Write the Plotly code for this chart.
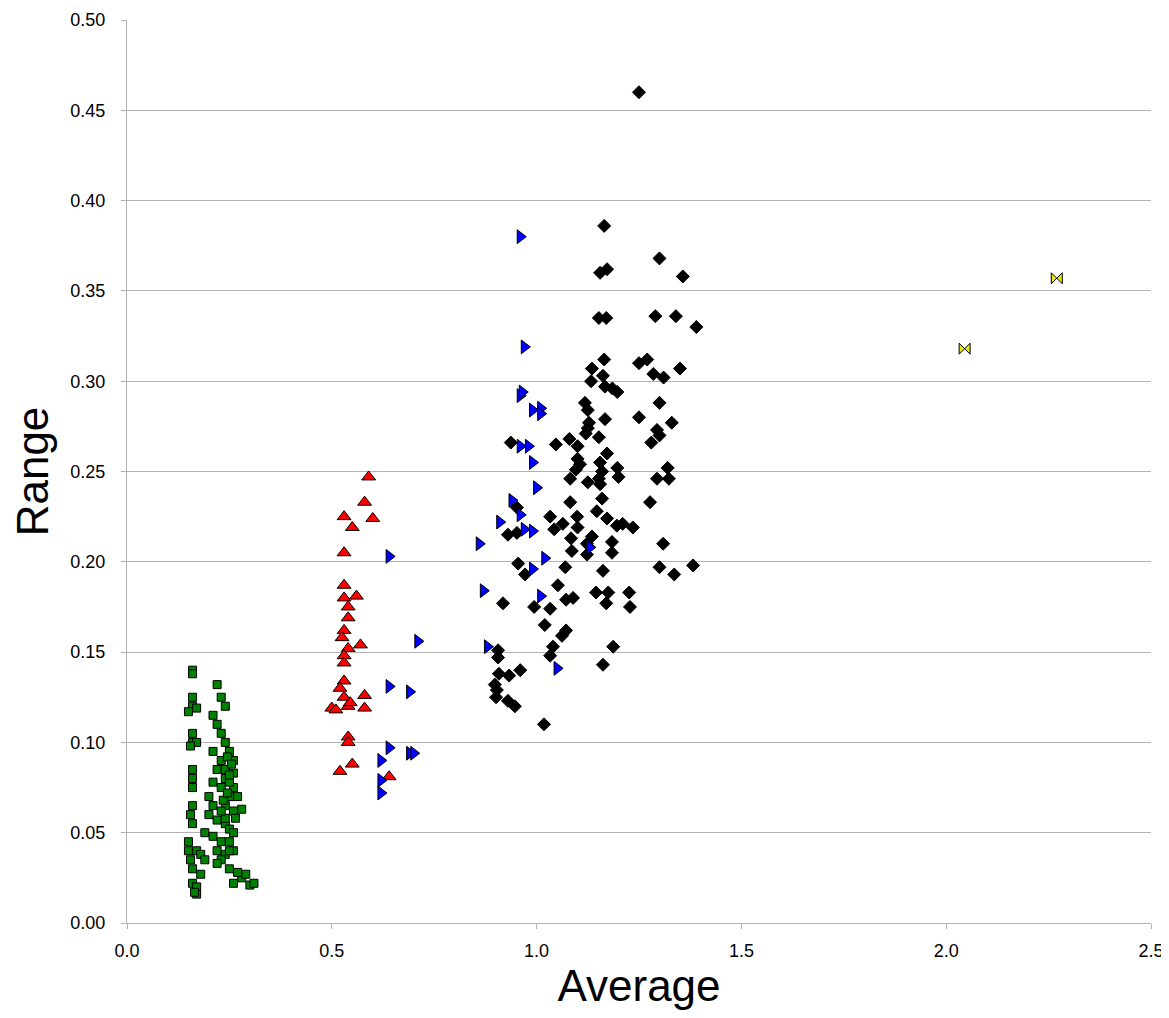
import plotly.graph_objects as go

green_x = [0.16, 0.16, 0.16, 0.16, 0.15, 0.17, 0.16, 0.16, 0.17, 0.155, 0.16, 0.16, 0.16, 0.16, 0.155, 0.16,
           0.15, 0.15, 0.155, 0.16, 0.16, 0.17, 0.17, 0.165, 0.18, 0.17, 0.18, 0.19,
           0.22, 0.23, 0.24, 0.21, 0.22, 0.23, 0.21, 0.24, 0.25, 0.26, 0.22, 0.24, 0.26, 0.21, 0.23, 0.25,
           0.27, 0.24, 0.26, 0.28, 0.20, 0.22, 0.24, 0.25, 0.19, 0.21, 0.23, 0.25, 0.22, 0.24, 0.26, 0.23,
           0.25, 0.22, 0.26, 0.28, 0.29, 0.30, 0.31, 0.27, 0.25, 0.20, 0.21, 0.23, 0.24, 0.26,
           0.245, 0.255, 0.235, 0.25, 0.24, 0.26, 0.23, 0.245, 0.25, 0.265]
green_y = [0.140, 0.138, 0.125, 0.120, 0.117, 0.119, 0.105, 0.100, 0.100, 0.098, 0.085, 0.080, 0.075, 0.065, 0.060, 0.055,
           0.045, 0.040, 0.035, 0.030, 0.022, 0.020, 0.016, 0.017, 0.027, 0.040, 0.038, 0.035,
           0.132, 0.125, 0.120, 0.115, 0.110, 0.105, 0.095, 0.100, 0.095, 0.090, 0.085, 0.080, 0.083, 0.078, 0.075, 0.070,
           0.070, 0.065, 0.062, 0.063, 0.060, 0.057, 0.055, 0.052, 0.050, 0.048, 0.045, 0.045, 0.040, 0.038, 0.040, 0.035,
           0.030, 0.033, 0.022, 0.025, 0.027, 0.021, 0.022, 0.028, 0.040, 0.070, 0.065, 0.090, 0.085, 0.075,
           0.092, 0.088, 0.068, 0.078, 0.058, 0.050, 0.062, 0.072, 0.082, 0.058]

red_x = [0.59, 0.58, 0.53, 0.60, 0.55, 0.53, 0.53, 0.56, 0.53, 0.54, 0.54, 0.53, 0.525, 0.54, 0.57, 0.53,
         0.53, 0.53, 0.52, 0.53, 0.54, 0.58, 0.50, 0.51, 0.545, 0.58, 0.54, 0.54, 0.55, 0.52, 0.64]
red_y = [0.247, 0.233, 0.225, 0.224, 0.219, 0.205, 0.187, 0.181, 0.180, 0.175, 0.169, 0.162, 0.158, 0.152, 0.154, 0.148,
         0.144, 0.134, 0.130, 0.125, 0.120, 0.126, 0.119, 0.118, 0.122, 0.119, 0.103, 0.100, 0.088, 0.084, 0.081]

blue_x = [0.96, 0.97, 0.96, 0.965, 0.99, 1.01, 1.01, 0.96, 0.98, 0.99, 1.00, 0.94, 0.96, 0.91, 0.97, 0.99, 0.86,
          1.02, 0.99, 0.87, 1.01, 1.05, 0.88, 0.64, 0.71, 0.64, 0.69, 0.64, 0.62, 0.69, 0.70, 0.62, 0.62, 1.13]
blue_y = [0.380, 0.319, 0.292, 0.294, 0.284, 0.285, 0.282, 0.264, 0.264, 0.255, 0.241, 0.234, 0.226, 0.222, 0.218, 0.217, 0.210,
          0.202, 0.196, 0.184, 0.181, 0.141, 0.153, 0.203, 0.156, 0.131, 0.128, 0.097, 0.090, 0.094, 0.094, 0.079, 0.072, 0.208]

black_x = [1.25, 1.165, 1.30, 1.357, 1.155, 1.172, 1.152, 1.17, 1.29, 1.34, 1.39, 1.165, 1.135, 1.25, 1.27,
           1.285, 1.31, 1.35, 1.162, 1.133, 1.167, 1.185, 1.197, 1.118, 1.125, 1.30, 1.167, 1.128, 1.125, 1.12,
           1.25, 1.33, 1.294, 1.30, 1.28, 0.937, 1.047, 1.08, 1.10, 1.152, 1.172, 1.10, 1.106, 1.096, 1.082,
           1.155, 1.16, 1.152, 1.155, 1.197, 1.20, 1.32, 1.323, 1.294, 1.125, 1.16, 1.082, 1.277, 1.147, 1.172,
           1.033, 1.064, 1.099, 1.10, 1.196, 1.21, 1.235, 0.952, 0.93, 0.952, 1.043, 1.084, 1.086, 1.135, 1.123,
           1.123, 1.184, 1.184, 1.309, 0.955, 0.972, 1.07, 1.162, 1.30, 1.336, 1.382, 1.052, 0.918, 0.994, 1.033,
           1.072, 1.089, 1.145, 1.175, 1.17, 1.226, 1.228, 1.02, 1.072, 1.062, 1.187, 1.04, 1.033, 0.906, 0.906,
           1.162, 0.908, 0.933, 0.96, 0.898, 0.903, 0.901, 0.93, 0.947, 1.018]
black_y = [0.460, 0.386, 0.368, 0.358, 0.360, 0.362, 0.335, 0.335, 0.336, 0.336, 0.330, 0.312, 0.307, 0.310, 0.312,
           0.304, 0.302, 0.307, 0.303, 0.300, 0.297, 0.296, 0.294, 0.288, 0.284, 0.288, 0.279, 0.277, 0.274, 0.271,
           0.280, 0.277, 0.273, 0.270, 0.266, 0.266, 0.265, 0.268, 0.264, 0.269, 0.260, 0.257, 0.254, 0.251, 0.246,
           0.255, 0.250, 0.246, 0.243, 0.252, 0.247, 0.252, 0.246, 0.246, 0.244, 0.235, 0.233, 0.233, 0.228, 0.224,
           0.225, 0.221, 0.225, 0.219, 0.220, 0.221, 0.219, 0.230, 0.215, 0.216, 0.218, 0.213, 0.206, 0.214, 0.210,
           0.204, 0.211, 0.205, 0.210, 0.199, 0.193, 0.197, 0.195, 0.197, 0.193, 0.198, 0.187, 0.177, 0.175, 0.174,
           0.179, 0.180, 0.183, 0.183, 0.177, 0.183, 0.175, 0.165, 0.162, 0.159, 0.153, 0.153, 0.148, 0.151, 0.147,
           0.143, 0.138, 0.137, 0.140, 0.132, 0.129, 0.125, 0.123, 0.120, 0.110]

yellow_x = [2.045, 2.27]
yellow_y = [0.318, 0.357]

fig = go.Figure()

def add(x, y, color, symbol, size=9):
    fig.add_trace(go.Scatter(
        x=x, y=y, mode="markers",
        marker=dict(color=color, symbol=symbol, size=size, line=dict(color="black", width=1)),
        showlegend=False))

add(green_x, green_y, "#008000", "square", 8)
add(red_x, red_y, "#ff0000", "triangle-up", 12)
add(black_x, black_y, "#000000", "diamond", 10)
add(blue_x, blue_y, "#0000ff", "triangle-right", 12)
add(yellow_x, yellow_y, "#e6e619", "bowtie", 11)

# page body adds an 8px offset, so the figure is sized to land on the reference plot box
fig.update_layout(
    width=1161, height=1002,
    margin=dict(l=119, r=18, t=12, b=87),
    plot_bgcolor="white", paper_bgcolor="white",
    font=dict(family="Liberation Sans, Arial", size=18, color="black"),
)
fig.update_xaxes(
    range=[0, 2.5], dtick=0.5, tickformat=".1f", automargin=False,
    showgrid=False, showline=True, linecolor="#b3b3b3", ticks="outside", tickcolor="#b3b3b3", ticklen=5,
    ticklabelstandoff=6,
    title=dict(text="Average", font=dict(size=44), standoff=16), zeroline=False,
)
fig.update_yaxes(
    range=[0, 0.5], dtick=0.05, tickformat=".2f", automargin=False,
    showgrid=True, gridcolor="#b3b3b3", showline=True, linecolor="#b3b3b3", ticks="outside", tickcolor="#b3b3b3", ticklen=5,
    ticklabelstandoff=12,
    title=dict(text="Range", font=dict(size=44), standoff=30), zeroline=False,
)

fig.write_html("out.html")
